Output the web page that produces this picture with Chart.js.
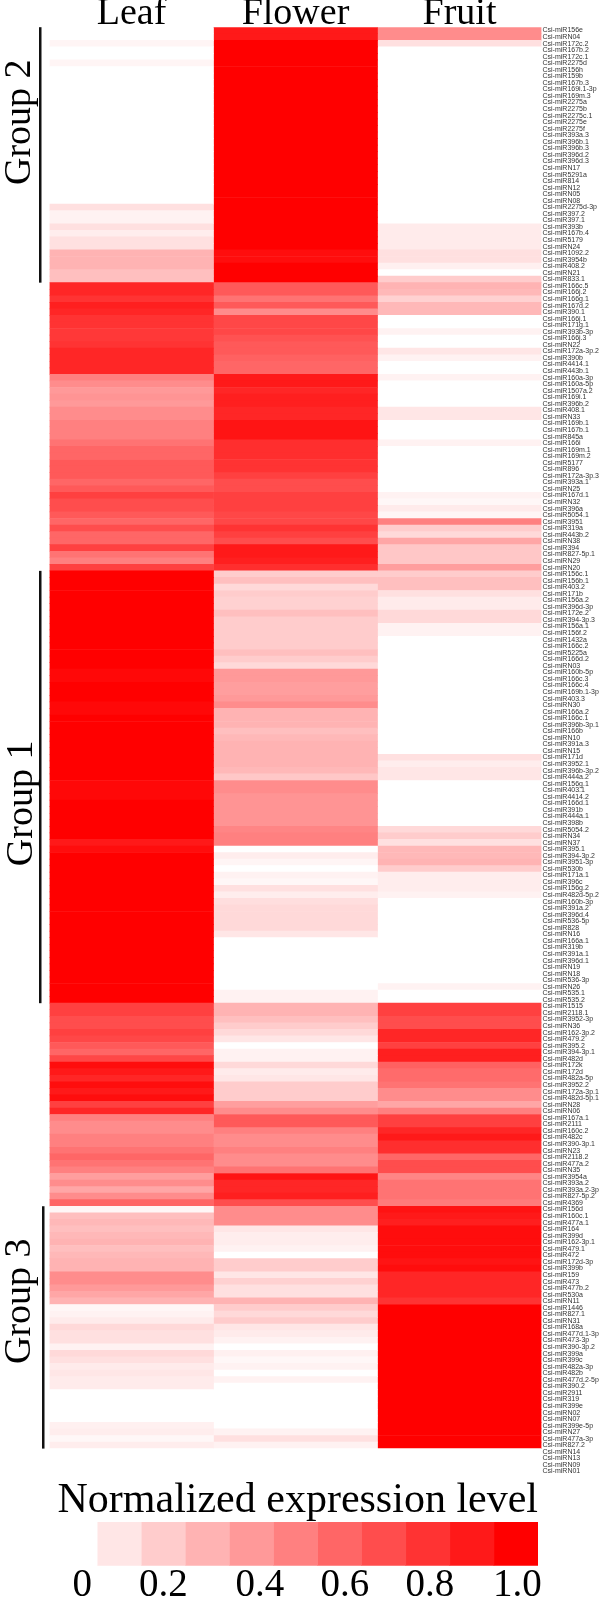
<!DOCTYPE html>
<html lang="en">
<head>
    <meta charset="UTF-8">
    <title>Normalized expression level heatmap</title>
    <style>
        body { margin: 0; background: #fff; }
        canvas { display: block; }
    </style>
    <script src="https://cdn.jsdelivr.net/npm/chart.js"></script>
</head>
<body>
    <canvas id="heatChart" width="600" height="1480"></canvas>
    <canvas id="legendChart" width="600" height="121"></canvas>

    <script>
        const tissues = ['Leaf', 'Flower', 'Fruit'];

        const mirnas = [
            'R156e','RN04','R172c.2','R167b.2','R172c.1','R2275d','R156h','R159b','R167b.3','R169i.1-3p','R169m.3','R2275a','R2275b','R2275c.1','R2275e','R2275f','R393a.3','R396b.1',
            'R396b.3','R396d.2','R396d.3','RN17','R5291a','R814','RN12','RN05','RN08','R2275d-3p','R397.2','R397.1','R393b','R167b.4','R5179','RN24','R1092.2','R3954b','R408.2',
            'RN21','R833.1','R166c.5','R166j.2','R166g.1','R167d.2','R390.1','R166j.1','R171g.1','R393b-3p','R166j.3','RN22','R172a-3p.2','R390b','R4414.1','R443b.1','R160a-3p','R160a-5p','R1507a.2',
            'R169i.1','R396b.2','R408.1','RN33','R169b.1','R167b.1','R845a','R166i','R169m.1','R169m.2','R5177','R896','R172a-3p.3','R393a.1','RN25','R167d.1','RN32','R396a','R5054.1',
            'R3951','R319a','R443b.2','RN38','R394','R827-5p.1','RN29','RN20','R156c.1','R156b.1','R403.2','R171b','R156a.2','R396d-3p','R172e.2','R394-3p.3','R156a.1','R156f.2','R1432a',
            'R166c.2','R5225a','R166d.2','RN03','R160b-5p','R166c.3','R166c.4','R169b.1-3p','R403.3','RN30','R166a.2','R166c.1','R396b-3p.1','R166b','RN10','R391a.3','RN15','R171d','R3952.1',
            'R396b-3p.2','R444a.2','R156g.1','R403.1','R4414.2','R166d.1','R391b','R444a.1','R398b','R5054.2','RN34','RN37','R395.1','R394-3p.2','R3951-3p','R530b','R171a.1','R396c','R156g.2',
            'R482d-5p.2','R160b-3p','R391a.2','R396d.4','R536-5p','R828','RN16','R166a.1','R319b','R391a.1','R396d.1','RN19','RN18','R536-3p','RN26','R535.1','R535.2','R1515','R2118.1',
            'R3952-3p','RN36','R162-3p.2','R479.2','R395.2','R394-3p.1','R482d','R172k','R172d','R482a-5p','R3952.2','R172a-3p.1','R482d-5p.1','RN28','RN06','R167a.1','R2111','R160c.2','R482c',
            'R390-3p.1','RN23','R2118.2','R477a.2','RN35','R3954a','R393a.2','R393a.2-3p','R827-5p.2','R4369','R156d','R160c.1','R477a.1','R164','R399d','R162-3p.1','R479.1','R472','R172d-3p',
            'R399b','R159','R473','R477b.2','R530a','RN11','R1446','R827.1','RN31','R168a','R477d.1-3p','R473-3p','R390-3p.2','R399a','R399c','R482a-3p','R482b','R477d.2-5p','R390.2',
            'R2911','R319','R399e','RN02','RN07','R399e-5p','RN27','R477a-3p','R827.2','RN14','RN13','RN09','RN01'
        ];

        const leafValues = [
            0,0,.04,0,0,.04,0,0,0,0,0,0,0,0,0,0,0,0,
            0,0,0,0,0,0,0,0,0,.12,.05,.05,.12,.07,.12,.12,.3,.3,.3,
            .25,.25,.85,.85,.8,.88,.85,.8,.8,.78,.78,.8,.85,.85,.85,.85,.5,.45,.4,
            .42,.4,.45,.45,.5,.5,.5,.55,.6,.6,.65,.65,.65,.6,.65,.75,.7,.7,.65,
            .6,.7,.6,.6,.75,.55,.5,.75,1,1,1,1,1,1,1,1,1,1,1,
            1,1,1,1,.97,.97,1,1,1,.97,.97,1,1,1,1,1,1,1,1,
            1,1,.97,.97,.97,1,1,1,1,1,1,.9,.95,1,1,1,1,1,1,
            1,1,1,1,1,1,1,1,1,1,1,1,1,1,1,1,1,.75,.75,
            .7,.7,.75,.72,.65,.6,.72,.95,.9,.85,.95,.9,.95,.75,.85,.5,.45,.45,.5,
            .5,.55,.6,.55,.5,.38,.45,.35,.45,.6,.03,.25,.28,.25,.28,.3,.25,.28,.3,
            .3,.45,.45,.4,.35,.3,.03,.05,.08,.15,.12,.12,.05,.15,.12,.08,.1,.08,.08,
            0,0,0,0,0,.06,.07,.03,.07,0,0,0,0
        ];

        const flowerValues = [
            .9,.9,1,1,1,1,1,1,1,1,1,1,1,1,1,1,1,1,
            1,1,1,1,1,1,1,1,1,1,1,1,1,1,1,1,.95,.95,1,
            1,1,.65,.65,.55,.65,.45,.72,.72,.72,.68,.65,.65,.62,.6,.6,.9,.9,.85,
            .88,.88,.85,.85,.92,.92,.92,.82,.82,.82,.8,.8,.75,.7,.7,.75,.75,.75,.72,
            .72,.8,.75,.7,.9,.9,.88,.82,.2,.25,.15,.2,.18,.18,.25,.2,.2,.2,.2,
            .2,.25,.2,.15,.4,.4,.38,.38,.4,.45,.3,.3,.3,.25,.28,.3,.3,.3,.3,
            .28,.22,.45,.45,.42,.42,.42,.42,.42,.48,.5,.5,0,.07,.04,0,.05,.03,.12,
            .07,.13,.15,.15,.15,.15,.1,0,0,0,0,0,0,0,0,.05,.05,.3,.3,
            .25,.2,.15,.1,0,.05,.05,.15,.08,.1,.2,.2,.2,.38,.45,.65,.65,.5,.45,
            .45,.5,.45,.45,.55,.92,.85,.85,.88,.7,.45,.45,.45,.1,.07,.07,.05,0,.2,
            .2,.1,.18,.12,.12,.3,.2,.15,.2,.1,.08,.05,0,.06,.03,.05,0,.05,0,
            0,0,0,0,0,0,.05,.12,.05,0,0,0,0
        ];

        const fruitValues = [
            .45,.45,.12,0,0,0,0,0,0,0,0,0,0,0,0,0,0,0,
            0,0,0,0,0,0,0,0,0,0,0,0,.08,.08,.08,.08,.12,.12,.06,
            0,.2,.3,.28,.18,.28,.28,0,0,.05,0,0,.1,.05,0,0,.05,0,0,
            0,0,.1,.1,0,0,0,.05,0,0,0,0,0,0,0,.05,.03,.08,.04,
            .5,.2,.15,.35,.22,.22,.22,.38,.2,.25,.25,.12,.08,.08,.15,.15,.05,.05,0,
            0,0,0,0,0,0,0,0,0,0,0,0,0,0,0,0,0,.12,.07,
            .1,.1,0,0,0,0,0,0,0,.15,.2,.12,.28,.28,.3,.2,.07,.07,.07,
            .05,0,0,0,0,0,0,0,0,0,0,0,0,0,.05,0,0,.75,.75,
            .7,.7,.85,.85,.75,.88,.88,.62,.58,.58,.55,.45,.45,.35,.5,.75,.75,.85,.9,
            .82,.82,.6,.7,.7,.48,.55,.55,.55,.52,.93,.9,.88,.95,.95,.95,.95,.95,.92,
            .95,.85,.85,.85,.85,.8,1,1,1,1,1,1,1,1,1,1,1,1,1,
            1,1,1,1,1,1,1,1,1,0,0,0,0
        ];

        const groupNames = ['Group 2', 'Group 1', 'Group 3'];
        const groupFirstRow = [0, 83, 180];
        const groupLastRow = [38, 148, 216];
        const groupLabelRow = [14, 118, 194];

        // colour bar: white bin is a bit wider than the rest
        const legendLevels = [0, .1, .2, .3, .4, .5, .6, .7, .8, .9, 1];
        const legendBinWidths = [1.07, 1, 1, 1, 1, 1, 1, 1, 1, 1, 1];
        const legendTickAt = [.73, 2.57, 4.76, 6.69, 8.62, 10.6];
        const legendTicks = ['0', '0.2', '0.4', '0.6', '0.8', '1.0'];

        const serif = '"Liberation Serif", serif';

        function levelColor(v) {
            const g = Math.round(255 * (1 - v));
            return `rgb(255,${g},${g})`;
        }

        // vertical bars and rotated names left of the heatmap
        const groupPlugin = {
            id: 'groups',
            afterDraw(chart) {
                const ctx = chart.ctx;
                const y = chart.scales.y;
                const half = y.height / mirnas.length / 2;
                ctx.save();
                groupNames.forEach((name, i) => {
                    ctx.fillStyle = '#111';
                    const top = y.getPixelForValue(groupFirstRow[i]) - half;
                    const bottom = y.getPixelForValue(groupLastRow[i]) + half;
                    ctx.fillRect(i === 2 ? 42 : 39, top, 2.5, bottom - top);

                    ctx.save();
                    ctx.translate(i === 1 ? 24 : 22, y.getPixelForValue(groupLabelRow[i]));
                    ctx.rotate(-Math.PI / 2);
                    ctx.font = '38px ' + serif;
                    ctx.textAlign = 'center';
                    ctx.textBaseline = 'alphabetic';
                    ctx.fillStyle = '#000';
                    ctx.fillText(name, 0, 8);
                    ctx.restore();
                });
                ctx.restore();
            }
        };

        const rowLabels = mirnas.map(n => 'Csi-mi' + n);
        const seriesValues = [leafValues, flowerValues, fruitValues];

        new Chart(document.getElementById('heatChart'), {
            type: 'bar',
            plugins: [groupPlugin],
            data: {
                labels: rowLabels,
                datasets: tissues.map((name, i) => ({
                    label: name,
                    // each tissue is one unit wide, colour carries the value
                    data: seriesValues[i].map(() => 1),
                    backgroundColor: seriesValues[i].map(levelColor),
                    barPercentage: 1,
                    categoryPercentage: 1
                }))
            },
            options: {
                indexAxis: 'y',
                responsive: false,
                animation: false,
                layout: { padding: { left: 49.5, bottom: 1.7 } },
                plugins: { legend: { display: false }, tooltip: { enabled: false } },
                scales: {
                    x: {
                        stacked: true,
                        position: 'top',
                        min: 0,
                        max: 3,
                        border: { display: false },
                        grid: { display: false, drawTicks: false },
                        afterBuildTicks: scale => { scale.ticks = tissues.map((t, i) => ({ value: i + 0.5 })); },
                        afterFit: scale => { scale.height = 27.2; },
                        ticks: {
                            z: 1,
                            padding: -10,
                            maxRotation: 0,
                            autoSkip: false,
                            color: '#000',
                            font: { family: serif, size: 38 },
                            callback: v => tissues[Math.floor(v)]
                        }
                    },
                    y: {
                        stacked: true,
                        position: 'right',
                        border: { display: false },
                        grid: { display: false, drawTicks: false },
                        afterFit: scale => { scale.width = 58.5; },
                        ticks: {
                            padding: 1,
                            autoSkip: false,
                            color: '#333',
                            font: { family: '"Liberation Sans", sans-serif', size: 7 }
                        }
                    }
                }
            }
        });

        new Chart(document.getElementById('legendChart'), {
            type: 'bar',
            data: {
                labels: ['level'],
                datasets: legendLevels.map((v, i) => ({
                    data: [legendBinWidths[i]],
                    backgroundColor: levelColor(v),
                    barPercentage: 1,
                    categoryPercentage: 1
                }))
            },
            options: {
                indexAxis: 'y',
                responsive: false,
                animation: false,
                layout: { padding: { left: 50, right: 62 } },
                plugins: {
                    legend: { display: false },
                    tooltip: { enabled: false },
                    title: {
                        display: true,
                        text: 'Normalized expression level',
                        align: 'end',
                        color: '#000',
                        padding: 0,
                        font: { family: serif, size: 42, weight: 'normal', lineHeight: 1 }
                    }
                },
                scales: {
                    x: {
                        stacked: true,
                        min: 0,
                        max: 11.07,
                        border: { display: false },
                        grid: { display: false, drawTicks: false },
                        afterBuildTicks: scale => { scale.ticks = legendTickAt.map(v => ({ value: v })); },
                        afterFit: scale => { scale.height = 35.3; },
                        ticks: {
                            padding: -3,
                            maxRotation: 0,
                            autoSkip: false,
                            color: '#000',
                            font: { family: serif, size: 39 },
                            callback: v => legendTicks[legendTickAt.indexOf(v)]
                        }
                    },
                    y: { display: false, stacked: true }
                }
            }
        });
    </script>
</body>
</html>
